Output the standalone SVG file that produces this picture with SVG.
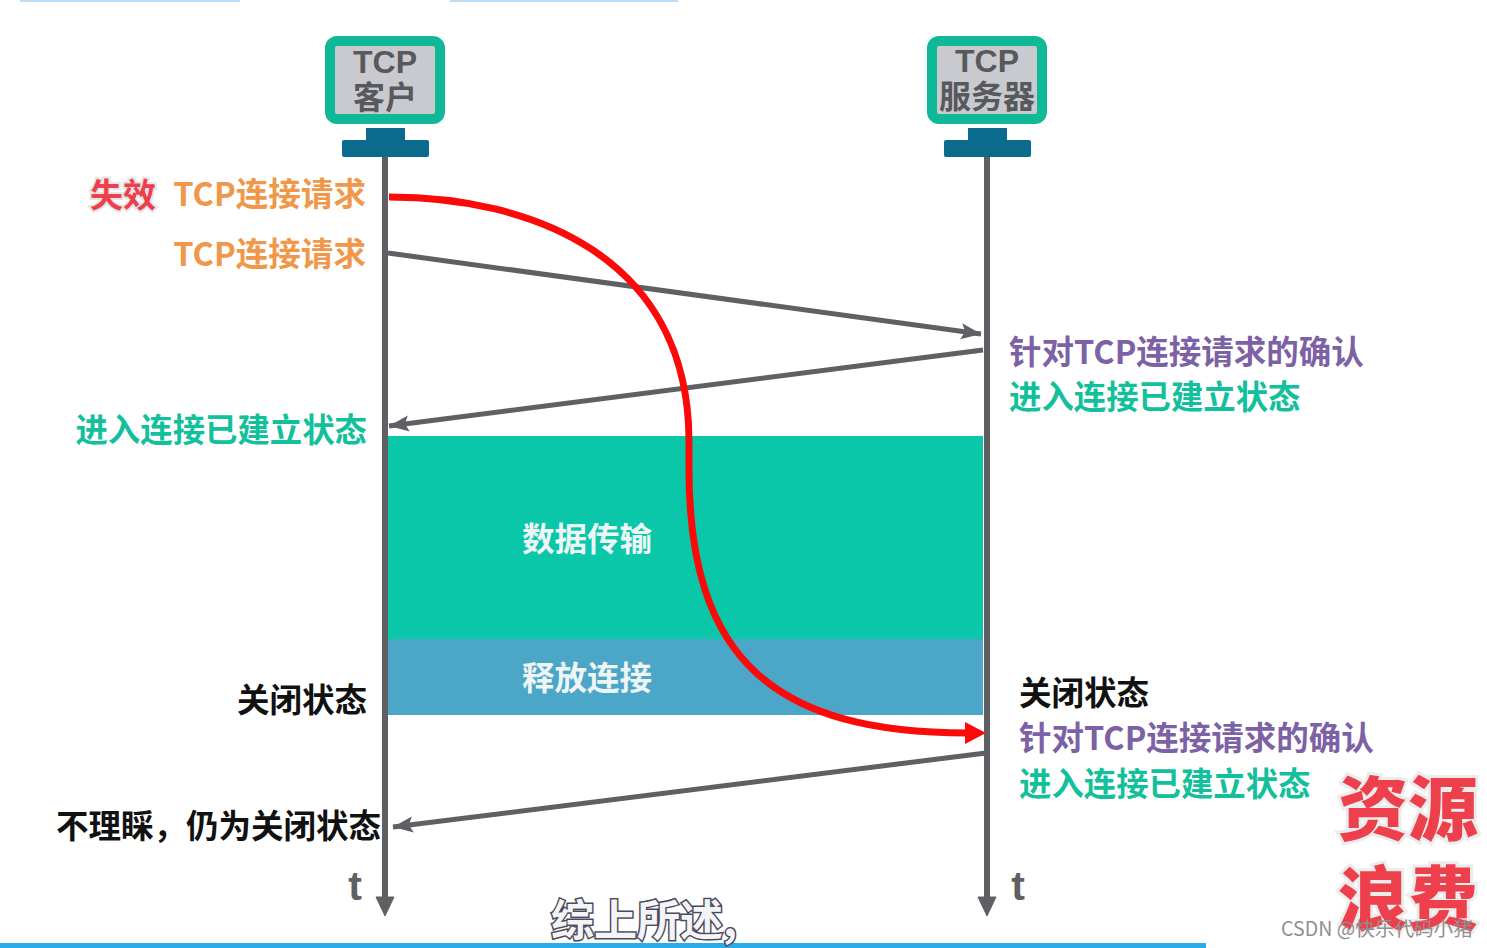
<svg xmlns="http://www.w3.org/2000/svg" width="1487" height="948" viewBox="0 0 1487 948">
<style>
text{font-family:"Liberation Sans","Noto Sans CJK SC",sans-serif;font-weight:700}
.cn{font-family:"Noto Sans CJK SC","Liberation Sans",sans-serif;font-weight:700}
.l{stroke:#5f6064;stroke-width:6;fill:none}
.thin{stroke:#5f6064;stroke-width:5;fill:none}
.scr{fill:#c9cacf;stroke:#0fb896;stroke-width:10}
.base{fill:#0b6b8c}
.o{fill:#f0974a;font-size:32.6px}
.p{fill:#7d61a5;font-size:32.5px}
.g{fill:#12c09c;font-size:32.4px}
.k{fill:#111;font-size:32.5px}
.w{fill:#eef5f5;font-size:32.5px}
.big{fill:#ee3f4c;stroke:#ececec;stroke-width:6;paint-order:stroke;font-size:70px;font-weight:900}
.h{fill:#58595d;font-size:32px;font-weight:700}
.t{fill:#5f6064;font-size:41px}
</style>
<defs>
<marker id="ah" markerUnits="userSpaceOnUse" markerWidth="22" markerHeight="20" refX="20" refY="9" orient="auto"><path d="M0 1L20 9L0 17L4 9Z" fill="#5f6064"/></marker>
<marker id="ar" markerUnits="userSpaceOnUse" markerWidth="24" markerHeight="26" refX="3" refY="12" orient="auto"><path d="M0 1L21 12L0 23Z" fill="#fb0a0a"/></marker>
</defs>
<rect width="1487" height="948" fill="#fff"/>
<rect x="0" y="943" width="1206" height="5" fill="#27aee8"/>
<g id="top-fragments" fill="#bcdcf8">
<rect x="20" y="0" width="220" height="2"/><rect x="450" y="0" width="228" height="2"/>
</g>
<g id="data-transfer">
<rect x="388" y="436" width="595" height="203" fill="#09c7a8"/>
<text class="w cn" x="587" y="551" text-anchor="middle">数据传输</text>
</g>
<g id="release">
<rect x="388" y="639" width="595" height="76" fill="#4ba6c8"/>
<text class="w cn" x="587" y="690" text-anchor="middle">释放连接</text>
</g>
<g id="connectors">
<line class="l" x1="385" y1="157" x2="385" y2="900"/>
<line class="l" x1="987" y1="157" x2="987" y2="900"/>
<path d="M385 897L376 897L385 916L394 897Z" fill="#5f6064" stroke="#5f6064" stroke-width="1"/>
<path d="M987 897L978 897L987 916L996 897Z" fill="#5f6064" stroke="#5f6064" stroke-width="1"/>
<line class="thin" x1="388" y1="253" x2="981" y2="334" marker-end="url(#ah)"/>
<line class="thin" x1="983" y1="350" x2="389" y2="426" marker-end="url(#ah)"/>
<line class="thin" x1="986" y1="753" x2="393" y2="827" marker-end="url(#ah)"/>
<path d="M389 197C530 197 688 255 689 440L689 470C689 660 775 733 968 733" stroke="#fb0a0a" stroke-width="7" fill="none" marker-end="url(#ar)"/>
</g>
<g id="tcp-client">
<rect class="scr" x="330" y="41" width="110" height="78" rx="7"/>
<text class="h" x="385" y="73" text-anchor="middle">TCP</text>
<text class="h cn" x="385" y="109" text-anchor="middle">客户</text>
<rect class="base" x="366" y="128" width="39" height="16"/>
<rect class="base" x="342" y="140" width="87" height="17" rx="2"/>
</g>
<g id="tcp-server">
<rect class="scr" x="932" y="41" width="110" height="78" rx="7"/>
<text class="h" x="987" y="72" text-anchor="middle">TCP</text>
<text class="h cn" x="987" y="108" text-anchor="middle">服务器</text>
<rect class="base" x="968" y="128" width="39" height="16"/>
<rect class="base" x="944" y="140" width="87" height="17" rx="2"/>
</g>
<g id="labels">
<text class="cn" x="90" y="207" font-size="33" fill="#ee3f4c" stroke="#e6e6e6" stroke-width="4" paint-order="stroke">失效</text>
<text class="o cn" x="366" y="206" text-anchor="end">TCP连接请求</text>
<text class="o cn" x="366" y="266" text-anchor="end">TCP连接请求</text>
<text class="p cn" x="1009" y="364">针对TCP连接请求的确认</text>
<text class="g cn" x="1009" y="409">进入连接已建立状态</text>
<text class="g cn" x="367" y="442" text-anchor="end">进入连接已建立状态</text>
<text class="k cn" x="367" y="712" text-anchor="end">关闭状态</text>
<text class="k cn" x="1019" y="705">关闭状态</text>
<text class="p cn" x="1019" y="750">针对TCP连接请求的确认</text>
<text class="g cn" x="1019" y="796">进入连接已建立状态</text>
<text class="k cn" x="381" y="838" text-anchor="end">不理睬，仍为关闭状态</text>
<text class="t" x="355" y="900" text-anchor="middle">t</text>
<text class="t" x="1018" y="900" text-anchor="middle">t</text>
<text class="big cn" x="1338" y="835">资源</text>
<text class="big cn" x="1338" y="925">浪费</text>
<text class="cn" x="551" y="936" font-size="43" font-weight="500" fill="#f4f4f6" stroke="#4a4a5e" stroke-width="3" paint-order="stroke">综上所述,</text>
<text x="1281" y="936" font-size="19.6" style="font-family:'Noto Sans CJK SC',sans-serif;font-weight:400" fill="#8f8f8f">CSDN @快乐代码小猪</text>
</g>
</svg>
